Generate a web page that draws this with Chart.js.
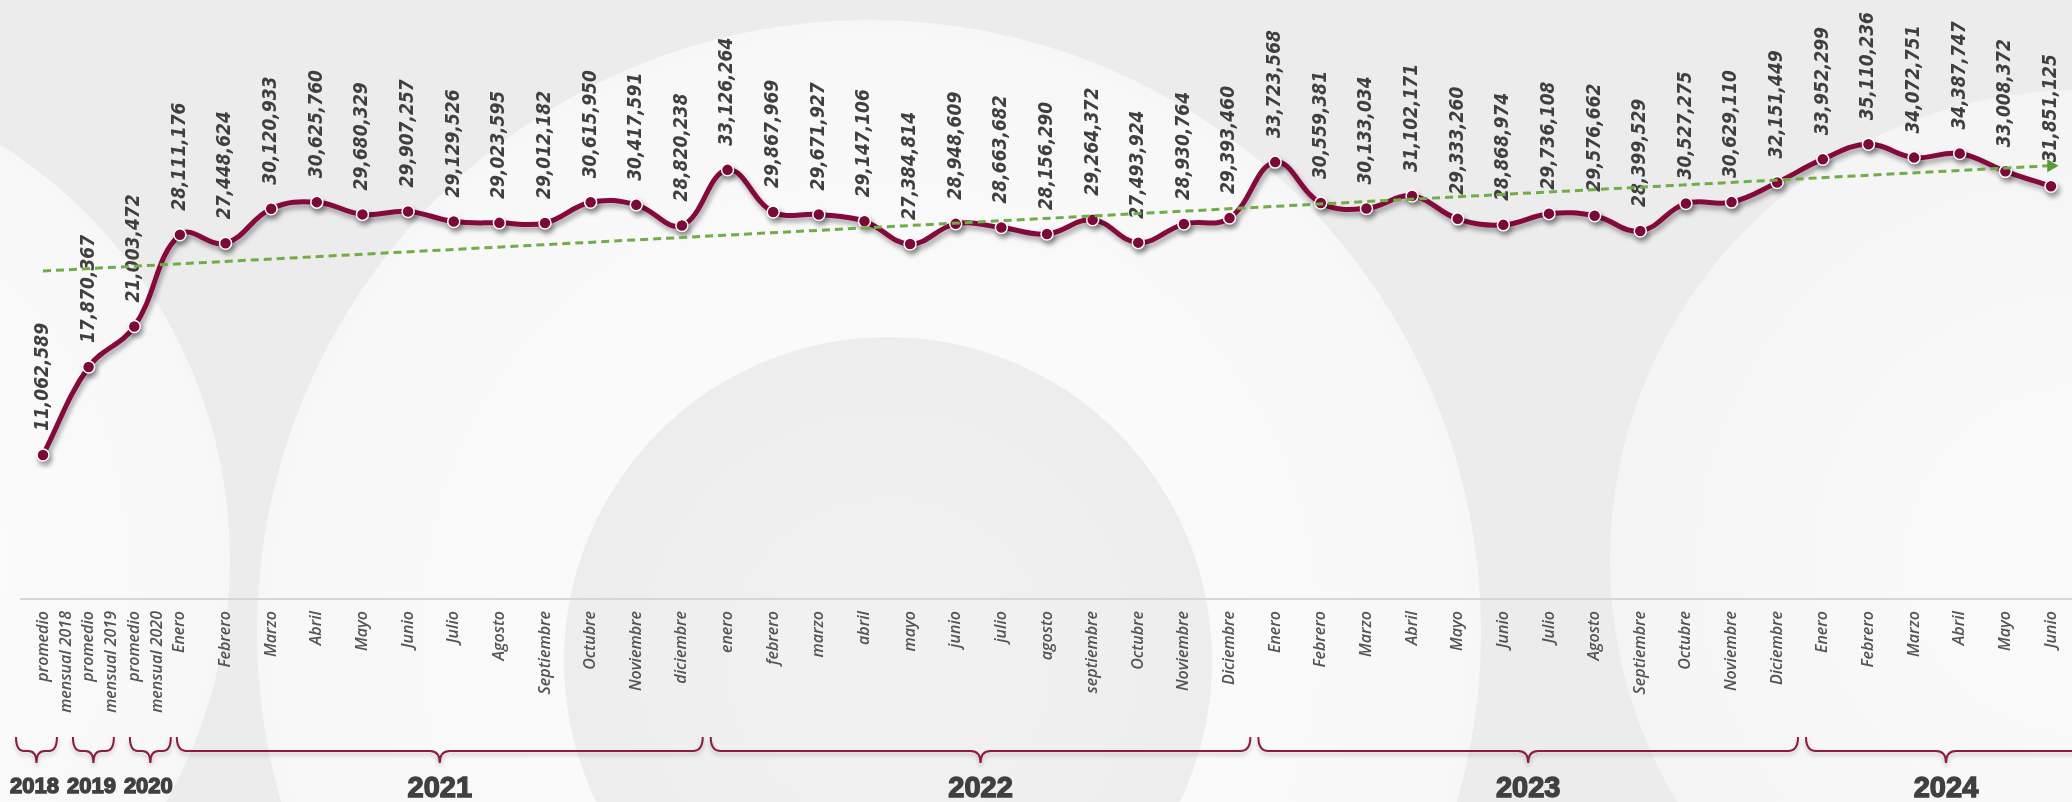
<!DOCTYPE html>
<html lang="es">
<head>
<meta charset="utf-8">
<title>Promedio mensual</title>
<script src="https://cdn.jsdelivr.net/npm/chart.js@4.4.1/dist/chart.umd.min.js"></script>
<style>
  html, body { margin: 0; padding: 0; background: #eeeeee; overflow: hidden; }
  #wrap { width: 2072px; height: 802px; }
</style>
</head>
<body>
<div id="wrap"><canvas id="chart" width="2072" height="802"></canvas></div>
<script>
const categories = [
  ['promedio', 'mensual 2018'], ['promedio', 'mensual 2019'], ['promedio', 'mensual 2020'],
  'Enero', 'Febrero', 'Marzo', 'Abril', 'Mayo', 'Junio', 'Julio', 'Agosto', 'Septiembre', 'Octubre', 'Noviembre', 'diciembre',
  'enero', 'febrero', 'marzo', 'abril', 'mayo', 'junio', 'julio', 'agosto', 'septiembre', 'Octubre', 'Noviembre', 'Diciembre',
  'Enero', 'Febrero', 'Marzo', 'Abril', 'Mayo', 'Junio', 'Julio', 'Agosto', 'Septiembre', 'Octubre', 'Noviembre', 'Diciembre',
  'Enero', 'Febrero', 'Marzo', 'Abril', 'Mayo', 'Junio'
];

const values = [
  11062589, 17870367, 21003472,
  28111176, 27448624, 30120933, 30625760, 29680329, 29907257, 29129526, 29023595, 29012182, 30615950, 30417591, 28820238,
  33126264, 29867969, 29671927, 29147106, 27384814, 28948609, 28663682, 28156290, 29264372, 27493924, 28930764, 29393460,
  33723568, 30559381, 30133034, 31102171, 29333260, 28868974, 29736108, 29576662, 28399529, 30527275, 30629110, 32151449,
  33952299, 35110236, 34072751, 34387747, 33008372, 31851125
];

const years = ['2018', '2019', '2020', '2021', '2022', '2023', '2024'];
const monthsPerYear = [1, 1, 1, 12, 12, 12, 6];

// trend line: value at first and last point
const trendStart = 25300000;
const trendEnd = 33450000;
const trendData = categories.map((_, i) => i === 0 ? trendStart : (i === categories.length - 1 ? trendEnd : null));

// soft grey/white circles behind the chart
const backdrop = {
  id: 'backdrop',
  beforeDraw(chart) {
    const ctx = chart.ctx;
    ctx.save();
    ctx.fillStyle = '#ececec';
    ctx.fillRect(0, 0, chart.width, chart.height);
    const blob = (x, y, r, inner, outer) => {
      const g = ctx.createRadialGradient(x, y, r * 0.3, x, y, r);
      g.addColorStop(0, inner);
      g.addColorStop(1, outer);
      ctx.fillStyle = g;
      ctx.beginPath();
      ctx.arc(x, y, r, 0, Math.PI * 2);
      ctx.fill();
    };
    blob(-260, 560, 490, 'rgba(255,255,255,0.85)', 'rgba(255,255,255,0.6)');
    blob(2080, 560, 470, 'rgba(255,255,255,0.7)', 'rgba(255,255,255,0.45)');
    blob(869, 632, 612, 'rgba(255,255,255,0.8)', 'rgba(255,255,255,0.6)');
    blob(888, 661, 324, 'rgba(241,241,241,1)', 'rgba(237,237,237,1)');
    ctx.restore();
  }
};

// rotated value labels + axis line, drawn under the lines
const valueLabels = {
  id: 'valueLabels',
  beforeDatasetsDraw(chart) {
    const ctx = chart.ctx;
    const area = chart.chartArea;
    ctx.save();
    ctx.strokeStyle = '#d6d6d6';
    ctx.lineWidth = 2;
    ctx.beginPath();
    ctx.moveTo(20, area.bottom + 1);
    ctx.lineTo(chart.width, area.bottom + 1);
    ctx.stroke();

    ctx.font = 'italic bold 19px "DejaVu Sans Condensed", "DejaVu Sans"';
    ctx.fillStyle = '#3f3f3f';
    ctx.textAlign = 'left';
    ctx.textBaseline = 'middle';
    chart.getDatasetMeta(0).data.forEach((pt, i) => {
      ctx.save();
      ctx.translate(pt.x, pt.y - 24);
      ctx.rotate(-Math.PI / 2);
      ctx.fillText(values[i].toLocaleString('en-US'), 0, 0);
      ctx.restore();
    });
    ctx.restore();
  }
};

const lineShadow = {
  id: 'lineShadow',
  beforeDatasetDraw(chart, args) {
    if (args.index !== 0) return;
    const ctx = chart.ctx;
    ctx.save();
    ctx.shadowColor = 'rgba(0,0,0,0.35)';
    ctx.shadowBlur = 5;
    ctx.shadowOffsetX = 2;
    ctx.shadowOffsetY = 4;
  },
  afterDatasetDraw(chart, args) {
    if (args.index !== 0) return;
    chart.ctx.restore();
  }
};

// curly braces and year names under the month labels
const yearBraces = {
  id: 'yearBraces',
  afterDraw(chart) {
    const ctx = chart.ctx;
    const x = chart.scales.x;
    const top = 737, mid = 751, tip = 763;
    let start = 0;
    let cursor = 10;    // single-point years are set side by side
    let prevRight = 0;
    years.forEach((yr, k) => {
      const n = monthsPerYear[k];
      const size = n > 1 ? 29 : 22;
      ctx.save();
      ctx.font = `bold ${size}px "Liberation Sans", Arial, sans-serif`;
      const tw = ctx.measureText(yr).width;
      ctx.restore();

      let left, right, tx;
      if (n === 1) {
        left = cursor + 6;
        right = cursor + tw - 2;
        tx = cursor + tw / 2;
        cursor += tw + 8;
      } else {
        left = Math.max(x.getPixelForValue(start - 0.5) + 6, prevRight + 6);
        right = k === years.length - 1 ? chart.width + 14 : x.getPixelForValue(start + n - 0.5) - 2;
        tx = (left + right) / 2;
      }
      prevRight = right;
      const c = (left + right) / 2;
      const r = Math.min(10, (right - left) / 5);

      ctx.save();
      ctx.strokeStyle = '#8b1a46';
      ctx.lineWidth = 2;
      ctx.shadowColor = 'rgba(0,0,0,0.22)';
      ctx.shadowBlur = 4;
      ctx.shadowOffsetY = 3;
      ctx.beginPath();
      ctx.moveTo(left, top);
      ctx.quadraticCurveTo(left, mid, left + r, mid);
      ctx.lineTo(c - r, mid);
      ctx.quadraticCurveTo(c, mid, c, tip);
      ctx.quadraticCurveTo(c, mid, c + r, mid);
      ctx.lineTo(right - r, mid);
      ctx.quadraticCurveTo(right, mid, right, top);
      ctx.stroke();
      ctx.restore();

      ctx.save();
      ctx.font = `bold ${size}px "Liberation Sans", Arial, sans-serif`;
      ctx.fillStyle = '#404040';
      ctx.strokeStyle = '#404040';
      ctx.lineWidth = 1.4;
      ctx.textAlign = 'center';
      ctx.textBaseline = 'alphabetic';
      const ty = n > 1 ? 797 : 793;
      ctx.fillText(yr, tx, ty);
      ctx.strokeText(yr, tx, ty);
      ctx.restore();
      start += n;
    });
  }
};

new Chart(document.getElementById('chart'), {
  type: 'line',
  data: {
    labels: categories,
    datasets: [
      {
        label: 'Promedio mensual',
        data: values,
        borderColor: '#850a3c',
        borderWidth: 5,
        tension: 0.4,
        pointRadius: 6,
        pointHoverRadius: 6,
        pointBackgroundColor: '#850a3c',
        pointBorderColor: '#ffffff',
        pointBorderWidth: 1.5,
        clip: false,
        order: 1
      },
      {
        label: 'Tendencia',
        data: trendData,
        spanGaps: true,
        borderColor: '#70ad47',
        borderWidth: 3,
        borderDash: [8, 5],
        tension: 0,
        pointStyle: 'triangle',
        pointRotation: 90,
        pointRadius: ctx => ctx.dataIndex === categories.length - 1 ? 7.5 : 0,
        pointHoverRadius: 0,
        pointBackgroundColor: '#5b9b35',
        pointBorderWidth: 0,
        clip: false,
        order: 0
      }
    ]
  },
  options: {
    responsive: false,
    animation: false,
    devicePixelRatio: 1,
    layout: { padding: { top: 81, left: 43, right: 21, bottom: 0 } },
    plugins: {
      legend: { display: false },
      tooltip: { enabled: false }
    },
    scales: {
      x: {
        grid: { display: false, drawTicks: false },
        border: { display: false },
        ticks: {
          autoSkip: false,
          minRotation: 90,
          maxRotation: 90,
          padding: 13,
          color: '#545454',
          font: { family: 'Open Sans', style: 'italic', weight: '600', size: 16, lineHeight: 1.44 }
        },
        afterFit: s => {
          s.height = 204;
          s.paddingLeft = 0;
          s.paddingRight = 0;
        }
      },
      y: { display: false, min: 0, max: 40000000 }
    }
  },
  plugins: [backdrop, valueLabels, lineShadow, yearBraces]
});
</script>
</body>
</html>
